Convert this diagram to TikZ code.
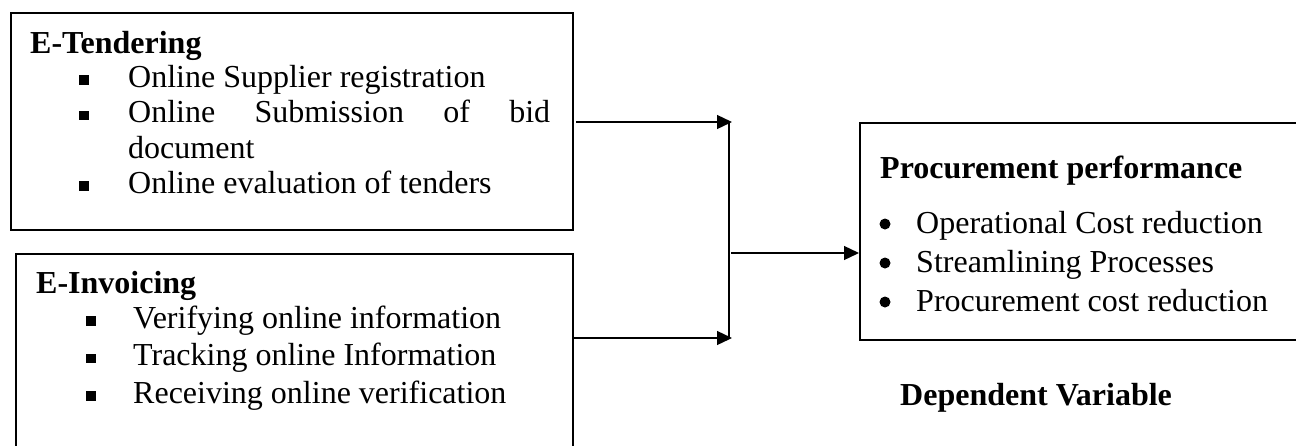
\documentclass[tikz,border=0pt]{standalone}
\usepackage{fontspec}
\setmainfont{Liberation Serif}
\usetikzlibrary{arrows.meta}
\begin{document}
\begin{tikzpicture}[x=1pt,y=-1pt,
  box/.style={draw, line width=1.6pt, inner sep=0pt, anchor=north west},
  txt/.style={anchor=base west, inner sep=0pt, font=\fontsize{32}{37}\selectfont},
  hd/.style={anchor=base west, inner sep=0pt, font=\fontsize{32}{37}\selectfont\bfseries},
  sq/.style={fill, rectangle, minimum size=9.5pt, inner sep=0pt},
  dotb/.style={fill, circle, minimum size=11pt, inner sep=0pt},
  conn/.style={line width=1.3pt},
  arr/.style={conn, -{Triangle[length=15pt,width=14pt]}}]
\useasboundingbox (0,0) rectangle (1296,445);

% boxes
\node[box, minimum width=562pt, minimum height=217pt] (tend) at (10,12) {};
\node[box, minimum width=557pt, minimum height=230pt] (inv) at (15,253) {};
\node[box, minimum width=470pt, minimum height=217pt] (perf) at (859,122) {};

% E-Tendering
\node[hd] (tendh) at (30,53) {E-Tendering};
\node[sq] (tb1) at (84,80) {};
\node[txt] (tt1) at (128,87) {Online Supplier registration};
\node[sq] (tb2) at (84,115.5) {};
\node[txt] (tt2) at (128,122.5) {\makebox[422pt][s]{Online\hfill Submission\hfill of\hfill bid}};
\node[txt] (tt3) at (128,158) {document};
\node[sq] (tb3) at (84,186) {};
\node[txt] (tt4) at (128,193) {Online evaluation of tenders};

% E-Invoicing
\node[hd] (invh) at (36,293) {E-Invoicing};
\node[sq] (ib1) at (91,321) {};
\node[txt] (it1) at (133,328) {Verifying online information};
\node[sq] (ib2) at (91,358.5) {};
\node[txt] (it2) at (133,365.5) {Tracking online Information};
\node[sq] (ib3) at (91,396) {};
\node[txt] (it3) at (133,403) {Receiving online verification};

% Procurement performance
\node[hd] (perfh) at (880,178) {Procurement performance};
\node[dotb] (pb1) at (885,224) {};
\node[txt] (pt1) at (916,233) {Operational Cost reduction};
\node[dotb] (pb2) at (885,263) {};
\node[txt] (pt2) at (916,272) {Streamlining Processes};
\node[dotb] (pb3) at (885,302) {};
\node[txt] (pt3) at (916,311) {Procurement cost reduction};

\node[hd] (dv) at (900,405) {Dependent Variable};

% connectors
\coordinate (s1) at (576,122);
\coordinate (e1) at (732,122);
\coordinate (jt) at (729,122);
\coordinate (jb) at (729,338);
\coordinate (e2) at (732,338);
\coordinate (m1) at (731,253);
\draw[arr] (s1) -- (e1);
\draw[line width=2pt] (jt) -- (jb);
\draw[arr] (inv.east |- jb) -- (e2);
\draw[arr] (m1) -- (perf.west |- m1);
\end{tikzpicture}
\end{document}
